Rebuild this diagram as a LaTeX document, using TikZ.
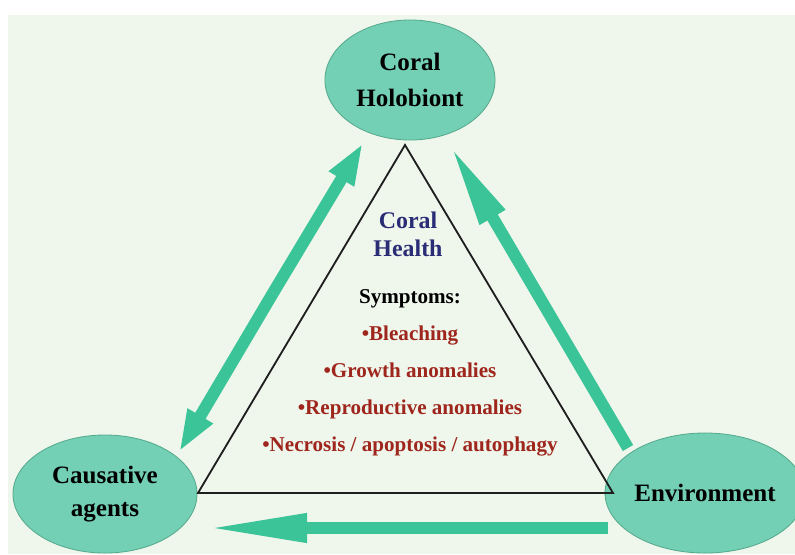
\documentclass[tikz,border=0pt]{standalone}
\usepackage{fontspec}
\setmainfont{Liberation Serif}
\usetikzlibrary{positioning,shapes.geometric,arrows.meta}
\definecolor{Cmenta}{RGB}{115,208,180}
\definecolor{Cborde}{RGB}{86,170,142}
\definecolor{Cflecha}{RGB}{58,196,152}
\definecolor{Cfondo}{RGB}{239,246,236}
\definecolor{Cnavy}{RGB}{42,44,118}
\definecolor{Cladrillo}{RGB}{158,38,28}
\definecolor{Cgris}{RGB}{30,30,30}

\begin{document}
\begin{tikzpicture}[x=0.025cm, y=-0.025cm,
  elipse/.style={ellipse, draw=Cborde, fill=Cmenta, line width=0.6pt,
                 inner sep=0pt, align=center,
                 font=\bfseries\fontsize{17.8}{23}\selectfont},
  flecha/.style={line width=0.3cm, Cflecha},
  punta/.style={-{Triangle[length=#1, width=0.66cm]}}]
  \useasboundingbox (0,0) rectangle (795,554);
  \clip (0,0) rectangle (795,554);
  \fill[Cfondo] (8,15) rectangle (795,554);

  % the three actors
  \node[elipse, minimum width=4.25cm, minimum height=3cm]
    (holo) at (410,80) {Coral\\[2pt]Holobiont};
  \node[elipse, minimum width=4.6cm, minimum height=2.95cm]
    (causa) at (105,494) {Causative\\agents};
  \node[elipse, minimum width=4.5cm, minimum height=3cm]
    (ambiente) at (705,493) {Environment};

  % health triangle
  \coordinate (vA) at (405,145);
  \coordinate (vB) at (198,493);
  \coordinate (vC) at (613,493);
  \draw[line width=1.3pt, Cgris] (vA) -- (vB) -- (vC) -- cycle;

  \node[font=\bfseries\fontsize{17}{20}\selectfont, text=Cnavy, align=center]
    (salud) at (408,234) {Coral\\Health};
  \node[font=\bfseries\fontsize{15}{26.3}\selectfont, align=center]
    (sintomas) at (410,373) {Symptoms:\\
      \textcolor{Cladrillo}{•Bleaching}\\
      \textcolor{Cladrillo}{•Growth anomalies}\\
      \textcolor{Cladrillo}{•Reproductive anomalies}\\
      \textcolor{Cladrillo}{•Necrosis / apoptosis / autophagy}};

  % interactions
  \coordinate (medio) at (273,293);
  \coordinate (holoIzq) at (363,143);
  \coordinate (causaArr) at (179,452);
  \coordinate (holoDer) at (450,145);
  \coordinate (ambArr) at (628,448);
  \coordinate (ambIzq) at (608,528);
  \coordinate (causaDer) at (205,528);
  \draw[flecha, punta=1.05cm] (medio) -- (holoIzq);
  \draw[flecha, punta=1.05cm] (medio) -- (causaArr);
  \draw[flecha, punta=2.1cm] (ambArr) -- (holoDer);
  \draw[flecha, punta=2.55cm] (ambIzq) -- (causaDer);
\end{tikzpicture}
\end{document}
